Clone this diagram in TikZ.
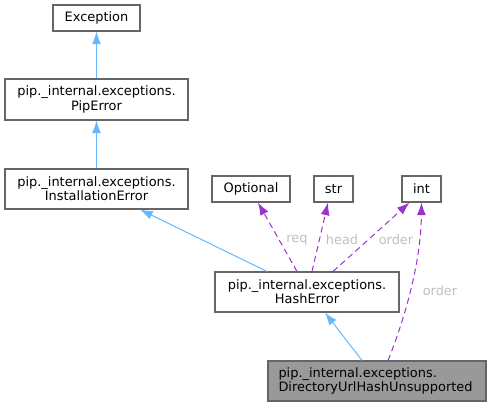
\documentclass[tikz,border=0pt]{standalone}
\usepackage{fontspec}
\setmainfont{DejaVu Sans}
\usetikzlibrary{arrows.meta}
\definecolor{boxline}{HTML}{666666}
\definecolor{boxfill}{HTML}{999999}
\definecolor{inherit}{HTML}{63B8FF}
\definecolor{member}{HTML}{9A32CD}
\definecolor{labelgray}{HTML}{C0C0C0}
\newdimen\px \px=0.75pt
\tikzset{
  cls/.style = {rectangle, draw=boxline, fill=white, line width=0.8pt, inner sep=0pt, align=center, font=\fontsize{9.7}{8.8}\selectfont},
  hl/.style = {cls, fill=boxfill, align=left},
  inh/.style = {draw=inherit, line width=0.75pt, -{Latex[length=9.5pt,width=6.75pt]}},
  use/.style = {draw=member, line width=0.75pt, dash pattern=on 4.5pt off 3pt, -{Latex[length=9.5pt,width=6.75pt]}},
  lbl/.style = {text=labelgray, font=\fontsize{9.7}{8.8}\selectfont, inner sep=0pt}
}
\begin{document}
\begin{tikzpicture}[x=0.75pt, y=-0.75pt]
\useasboundingbox (0,0) rectangle (491,407);
% classes
\node[cls, minimum width=87\px, minimum height=26\px] (exception) at (96.5,18) {Exception};
\node[cls, minimum width=183\px, minimum height=41\px] (piperror) at (96.5,99.5) {pip.\_internal.exceptions.\\PipError};
\node[cls, minimum width=183\px, minimum height=40\px] (installerror) at (96.5,189) {pip.\_internal.exceptions.\\InstallationError};
\node[cls, minimum width=78\px, minimum height=26\px] (optional) at (251,189) {Optional};
\node[cls, minimum width=39\px, minimum height=26\px] (str) at (333.5,189) {str};
\node[cls, minimum width=39\px, minimum height=26\px] (int) at (421.5,189) {int};
\node[cls, minimum width=184\px, minimum height=40\px] (hasherror) at (307,292) {pip.\_internal.exceptions.\\HashError};
\node[hl, minimum width=218\px, minimum height=40\px, text width=197\px] (dirurl) at (377,381) {pip.\_internal.exceptions.\\DirectoryUrlHashUnsupported};

% inheritance
\draw[inh] (piperror.north) -- (exception.south);
\draw[inh] (installerror.north) -- (piperror.south);
\draw[inh] ([xshift=-40\px]hasherror.north) -- ([xshift=43.5\px]installerror.south);
\draw[inh] ([xshift=-15\px]dirurl.north) -- ([xshift=18\px]hasherror.south);

% members
\draw[use] ([xshift=-10\px]hasherror.north) -- ([xshift=7\px]optional.south);
\draw[use] ([xshift=5\px]hasherror.north) -- ([xshift=-5.5\px]str.south);
\draw[use] ([xshift=26\px]hasherror.north) -- ([xshift=-12\px]int.south);
\draw[use] ([xshift=11\px]dirurl.north) .. controls (405,318) and (421,262) .. (int.south);

% labels
\node[lbl] (lreq) at (297,240) {req};
\node[lbl] (lhead) at (342,240) {head};
\node[lbl] (lorder) at (396,240) {order};
\node[lbl] (lorder2) at (440,291) {order};
\end{tikzpicture}
\end{document}
